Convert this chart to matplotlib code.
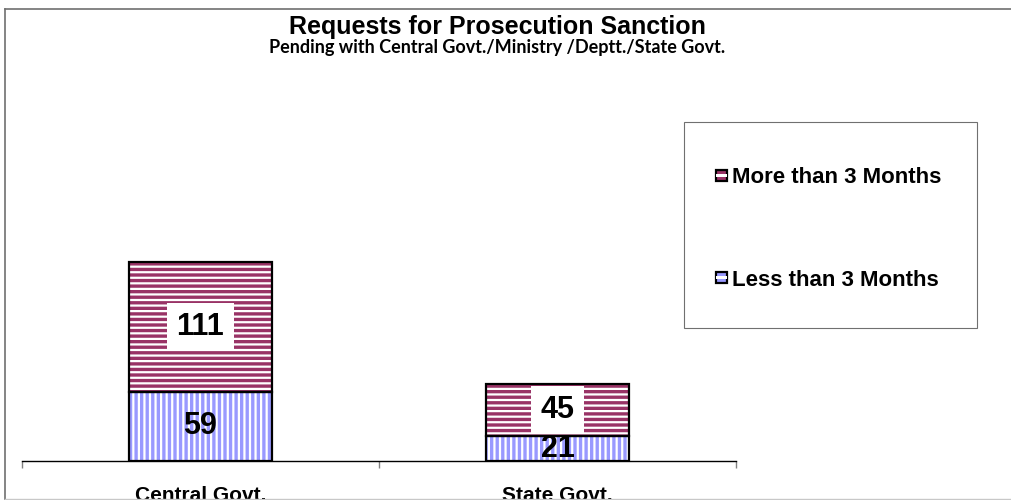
import matplotlib
matplotlib.use("Agg")
import matplotlib.pyplot as plt
from matplotlib.patches import Rectangle
from matplotlib.lines import Line2D
from matplotlib.legend_handler import HandlerPatch
import numpy as np

categories = ["Central Govt.", "State Govt."]
less_than_3 = [59, 21]
more_than_3 = [111, 45]
series_names = ["Less than 3 Months", "More than 3 Months"]

W, H = 1011, 500
plt.rcParams['font.family'] = ['Liberation Sans', 'DejaVu Sans']
plt.rcParams['hatch.linewidth'] = 2.4

fig = plt.figure(figsize=(W / 100, H / 100), dpi=100)

def fx(px):
    return px / W

def fy(py):
    return 1 - py / H

ax = fig.add_axes([fx(22), fy(461), fx(714), 234 / H])
x = np.arange(len(categories))
bw = 0.403
blue = '#9999FF'
maroon = '#993366'

ax.bar(x, less_than_3, bw, color='white', edgecolor=blue, hatch='|||', linewidth=0)
ax.bar(x, more_than_3, bw, bottom=less_than_3, color='white', edgecolor=maroon, hatch='---', linewidth=0)
ax.bar(x, less_than_3, bw, color='none', edgecolor='black', linewidth=1.6)
ax.bar(x, more_than_3, bw, bottom=less_than_3, color='none', edgecolor='black', linewidth=1.6)

for xi, lo, hi in zip(x, less_than_3, more_than_3):
    ax.text(xi, lo / 2, str(lo), ha='center', va='center', fontsize=22, fontweight='bold')
    ax.text(xi, lo + hi / 2, str(hi), ha='center', va='center', fontsize=22, fontweight='bold',
            bbox=dict(facecolor='white', edgecolor='none', boxstyle='square,pad=0.3'))

ax.set_xlim(-0.5, len(categories) - 0.5)
ax.set_ylim(0, 200)
for s in ['top', 'right', 'left']:
    ax.spines[s].set_visible(False)
ax.spines['bottom'].set_linewidth(1.0)
ax.set_yticks([])
ax.set_xticks(x)
ax.set_xticklabels(categories, fontsize=15, fontweight='bold')
ax.tick_params(axis='x', which='major', length=0, pad=18)
ax.set_xticks(np.arange(-0.5, len(categories), 1.0), minor=True)
ax.tick_params(axis='x', which='minor', length=5, width=1.0, color='#808080', direction='out')
ax.patch.set_alpha(0)

fig.text(fx(497), fy(27), "Requests for Prosecution Sanction", ha='center', va='center',
         fontsize=18, fontweight='bold')
fig.text(fx(497), fy(48), "Pending with Central Govt./Ministry /Deptt./State Govt.", ha='center', va='center',
         fontsize=13, fontweight='bold', family=['Lato', 'DejaVu Sans'])

fig.patches.append(Rectangle((fx(684), fy(328)), fx(293), 206 / H, transform=fig.transFigure,
                             facecolor='white', edgecolor='#707070', linewidth=0.8, zorder=0))


class SqHandler(HandlerPatch):
    def __init__(self, color):
        super().__init__()
        self.c = color

    def create_artists(self, legend, orig_handle, xdescent, ydescent, width, height, fontsize, trans):
        s = 8
        x0 = width - s - 1
        y0 = (height - s) / 2
        r1 = Rectangle((x0, y0), s, s, facecolor=self.c, edgecolor='black', linewidth=1.6, transform=trans)
        r2 = Rectangle((x0, y0 + s * 0.35), s, s * 0.3, facecolor='white', edgecolor='none', transform=trans)
        return [r1, r2]


hm = Rectangle((0, 0), 1, 1)
hl = Rectangle((0, 0), 1, 1)
fig.legend([hm, hl], [series_names[1], series_names[0]],
           handler_map={hm: SqHandler(maroon), hl: SqHandler(blue)},
           loc='center left', bbox_to_anchor=(fx(716), fy(229)), frameon=False,
           prop=dict(family='Liberation Sans', weight='bold', size=16),
           handlelength=0.55, handletextpad=0.15, labelspacing=3.65, borderpad=0, borderaxespad=0)

fig.add_artist(Line2D([fx(5), 1], [fy(9), fy(9)], color='#707070', linewidth=1.2, transform=fig.transFigure))
fig.add_artist(Line2D([fx(5), fx(5)], [fy(9), fy(499)], color='#707070', linewidth=1.2, transform=fig.transFigure))
fig.add_artist(Line2D([fx(5), 1], [fy(499), fy(499)], color='#c8c8c8', linewidth=1.0, transform=fig.transFigure))

fig.savefig("out.png", dpi=100)
